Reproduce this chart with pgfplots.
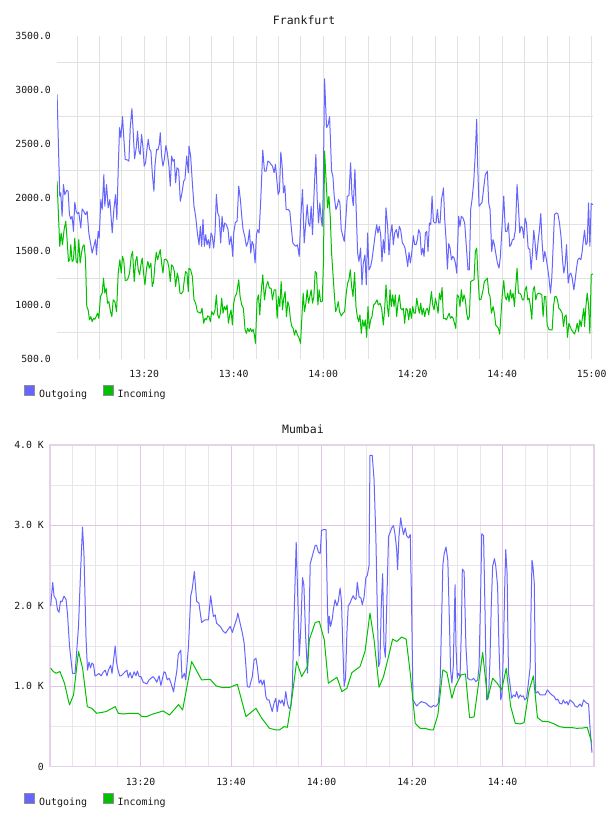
\documentclass[border=0pt]{standalone}
\usepackage{fontspec}
\setmainfont{DejaVu Sans Mono}
\usepackage{pgfplots}
\pgfplotsset{compat=1.18}
\definecolor{outblue}{RGB}{102,102,255}
\definecolor{ingreen}{RGB}{0,192,0}
\definecolor{fgrid}{RGB}{226,226,226}
\definecolor{mminor}{RGB}{234,228,236}
\definecolor{mmajor}{RGB}{224,198,226}
\definecolor{mframe}{RGB}{228,210,232}
\definecolor{txt}{RGB}{25,25,25}
\definecolor{legborder}{RGB}{140,140,150}

\pgfplotsset{
  chartbase/.style={
    scale only axis,
    anchor=south west,
    enlargelimits=false,
    major tick length=0pt, minor tick length=0pt,
    tick style={draw=none},
    tick label style={font=\fontsize{9.8}{10}\selectfont, text=txt},
    yticklabel style={anchor=east, inner sep=0pt, xshift=-6pt},
    xticklabel style={anchor=base, inner sep=0pt, yshift=-18.5pt},
    title style={font=\fontsize{11.5}{12}\selectfont, anchor=base, inner sep=0pt, text=txt},
    legend columns=2,
    legend style={draw=none, fill=none, font=\fontsize{10}{12}\selectfont, text=txt,
      inner sep=0pt, outer sep=0pt, nodes={inner sep=0pt},
      /tikz/every odd column/.append style={column sep=4pt},
      /tikz/every even column/.append style={column sep=15.5pt}},
    legend cell align=left,
    every axis plot/.append style={line width=1pt, line join=round, mark=none},
  }
}

\begin{document}
\begin{tikzpicture}
\useasboundingbox (0pt,0pt) rectangle (608pt,816pt);

% ---------------- Frankfurt ----------------
\begin{axis}[chartbase,
  at={(57pt,456.7pt)}, width=536pt, height=323.6pt,
  xmin=0.5, xmax=120.3, ymin=500, ymax=3500,
  axis line style={draw=none},
  xtick={20,40,60,80,100,120},
  xticklabels={13:20,13:40,14:00,14:20,14:40,15:00},
  minor xtick={5,10,...,120},
  ytick={500,1000,...,3500},
  yticklabels={500.0,1000.0,1500.0,2000.0,2500.0,3000.0,3500.0},
  minor ytick={750,1250,...,3250},
  xmajorgrids=true, xminorgrids=true, yminorgrids=true, ymajorgrids=false,
  major grid style={fgrid, line width=0.8pt},
  minor grid style={fgrid, line width=0.8pt},
  title={Frankfurt},
  title style={at={(axis description cs:0.461,1)}, yshift=4.7pt},
  legend style={at={(axis description cs:0,0)}, anchor=north west, xshift=-32.7pt, yshift=-26pt},
]
\addplot[outblue, legend image code/.code={\draw[draw=legborder, fill=outblue, line width=0.8pt] (0pt,-1.4pt) rectangle (10pt,8.6pt);}] coordinates {
(0.52,2957)(1.12,2012)(1.34,2043)(1.64,1826)(1.94,2120)(2.24,2027)(2.69,2067)(2.99,2058)(3.28,1841)(3.58,1800)
(3.88,1826)(4.18,1686)(4.48,1956)(4.78,1872)(5.07,1850)(5.37,1863)(5.82,1717)(6.12,1894)(6.49,1872)(6.87,1841)
(7.24,1872)(7.61,1671)(8.06,1562)(8.36,1485)(8.73,1547)(9.10,1609)(9.33,1469)(9.70,1686)(9.93,1624)(10.30,1981)
(10.60,1888)(10.97,2213)(11.19,1919)(11.57,2120)(11.94,1903)(12.31,1981)(12.84,1671)(13.21,1888)(13.58,2027)(13.88,1795)
(14.18,2260)(14.48,2647)(14.78,2554)(15.15,2750)(15.45,2539)(15.75,2353)(16.27,2347)(16.57,2337)(16.87,2647)(17.24,2824)
(17.54,2600)(17.84,2359)(18.21,2461)(18.51,2616)(18.81,2430)(19.10,2399)(19.40,2585)(19.70,2471)(20.00,2291)(20.30,2322)
(20.60,2446)(20.90,2539)(21.19,2446)(21.49,2430)(21.79,2229)(22.16,2058)(22.39,2291)(22.76,2446)(23.06,2440)(23.36,2492)
(23.58,2600)(23.88,2384)(24.18,2291)(24.48,2353)(24.85,2483)(25.15,2415)(25.52,2291)(25.82,2105)(26.12,2384)(26.42,2337)
(26.72,2353)(27.01,2136)(27.31,2275)(27.69,2260)(28.06,1965)(28.43,2043)(28.81,2151)(29.10,2167)(29.48,2384)(29.85,2229)
(30.00,2477)(30.37,2384)(30.75,2136)(31.12,1919)(31.49,1826)(31.87,1671)(32.24,1562)(32.54,1733)(32.84,1547)(33.13,1795)
(33.43,1547)(33.73,1655)(34.03,1562)(34.33,1609)(34.63,1531)(34.93,1671)(35.22,1640)(35.52,1531)(35.82,1671)(36.12,2027)
(36.42,1857)(36.72,1826)(37.09,1578)(37.39,1826)(37.69,1686)(37.99,1764)(38.36,1748)(38.73,1702)(39.03,1562)(39.40,1640)
(39.78,1454)(40.00,1671)(40.37,1770)(40.75,1779)(41.12,2105)(41.49,1981)(41.79,1826)(42.09,1702)(42.46,1640)(42.84,1547)
(43.21,1593)(43.51,1702)(43.81,1485)(44.10,1593)(44.40,1562)(44.78,1392)(45.07,1655)(45.37,1702)(45.67,1671)(46.04,1981)
(46.49,2440)(46.87,2244)(47.24,2244)(47.61,2337)(47.99,2328)(48.36,2306)(48.66,2291)(49.03,2229)(49.33,2306)(49.63,2167)
(49.93,2027)(50.22,2058)(50.52,2421)(50.82,2291)(51.12,2043)(51.42,2111)(51.72,1888)(52.16,1888)(52.54,1872)(52.84,1733)
(53.21,1578)(53.51,1562)(53.88,1547)(54.25,1562)(54.63,1454)(55.00,1826)(55.37,2074)(55.75,1578)(56.04,1733)(56.42,1934)
(56.72,1764)(57.01,1733)(57.31,1919)(57.61,1655)(57.99,2074)(58.36,2399)(58.66,1981)(58.96,1764)(59.25,1950)(59.55,1795)
(59.78,1733)(60.00,2043)(60.30,3100)(60.75,2647)(61.12,2678)(61.42,2750)(61.64,2508)(61.87,2244)(62.16,2198)(62.46,2012)
(62.84,1888)(63.13,1919)(63.43,1981)(63.73,1950)(64.03,1702)(64.40,1640)(64.70,1593)(65.00,1764)(65.37,2012)(65.75,2018)
(66.12,2322)(66.42,2027)(66.72,1925)(67.09,2260)(67.39,1857)(67.69,1485)(67.99,1407)(68.36,1531)(68.66,1190)(68.96,1392)
(69.33,1469)(69.63,1190)(69.93,1671)(70.22,1330)(70.60,1361)(70.90,1423)(71.19,1516)(71.57,1640)(71.94,1748)(72.24,1671)
(72.54,1733)(72.84,1655)(73.13,1407)(73.43,1609)(73.73,1485)(74.03,1903)(74.40,1733)(74.70,1469)(75.00,1655)(75.37,1748)
(75.67,1562)(75.97,1671)(76.34,1702)(76.72,1624)(77.01,1733)(77.31,1702)(77.69,1578)(77.99,1562)(78.28,1531)(78.58,1454)
(78.88,1361)(79.18,1491)(79.48,1392)(79.78,1485)(80.15,1646)(80.45,1562)(80.75,1562)(81.04,1609)(81.34,1702)(81.64,1671)
(81.94,1469)(82.24,1531)(82.54,1454)(82.84,1671)(83.13,1686)(83.43,1500)(83.73,1764)(84.03,1748)(84.33,2012)(84.63,1779)
(84.93,1764)(85.22,1764)(85.52,1888)(85.82,1764)(86.12,1764)(86.42,1981)(86.72,2043)(86.87,2089)(87.16,1795)(87.46,1609)
(87.76,1336)(88.06,1572)(88.36,1531)(88.66,1423)(88.96,1454)(89.25,1438)(89.55,1392)(89.85,1299)(90.27,1826)(90.57,1733)
(90.87,1826)(91.24,1810)(91.62,1764)(91.99,1547)(92.36,1330)(92.66,1330)(92.96,1888)(93.26,1981)(93.63,2136)(94.00,2415)
(94.30,2725)(94.53,2291)(94.83,1919)(95.12,1934)(95.50,1956)(95.87,2089)(96.24,2213)(96.69,2244)(96.99,1950)(97.29,1888)
(97.66,1500)(97.96,1609)(98.26,1562)(98.56,1485)(98.93,1392)(99.30,1345)(99.60,1454)(99.97,1733)(100.35,2012)(100.72,1686)
(101.09,1686)(101.39,1764)(101.69,1547)(101.99,1562)(102.29,1609)(102.59,1609)(102.96,1702)(103.33,2120)(103.63,1919)(103.93,1671)
(104.23,1733)(104.53,1717)(104.83,1624)(105.12,1810)(105.42,1764)(105.80,1531)(106.17,1516)(106.47,1330)(106.77,1485)(107.06,1696)
(107.36,1578)(107.66,1423)(108.03,1593)(108.33,1702)(108.63,1850)(108.93,1578)(109.23,1407)(109.53,1500)(109.83,1438)(110.12,1361)
(110.42,1268)(110.80,1113)(111.09,1252)(111.39,1547)(111.69,1841)(112.06,1857)(112.44,1850)(112.81,1764)(113.18,1624)(113.48,1423)
(113.78,1299)(114.08,1376)(114.38,1562)(114.75,1206)(115.05,1283)(115.35,1299)(115.65,1252)(116.02,1144)(116.32,1237)(116.62,1345)
(116.91,1423)(117.21,1438)(117.59,1423)(117.88,1500)(118.11,1593)(118.41,1696)(118.71,1562)(119.00,1578)(119.30,1950)(119.60,1547)
(119.90,1944)(120.27,1934)
};
\addlegendentry{Outgoing}
\addplot[ingreen, legend image code/.code={\draw[draw=legborder, fill=ingreen, line width=0.8pt] (0pt,-1.4pt) rectangle (10pt,8.6pt);}] coordinates {
(0.52,2151)(0.90,1764)(1.12,1547)(1.42,1671)(1.72,1562)(2.09,1702)(2.46,1779)(2.76,1609)(3.06,1407)(3.36,1423)
(3.58,1562)(3.88,1407)(4.18,1423)(4.48,1624)(4.78,1407)(5.07,1392)(5.37,1609)(5.67,1392)(5.97,1485)(6.27,1547)
(6.57,1562)(6.87,1423)(7.16,989)(7.46,958)(7.76,865)(8.06,896)(8.36,849)(8.66,880)(8.96,871)(9.25,896)
(9.55,927)(9.85,880)(10.22,1082)(10.60,1113)(10.90,1252)(11.19,1113)(11.49,1159)(11.79,1020)(12.09,1035)(12.46,942)
(12.76,896)(13.06,1051)(13.43,1035)(13.81,942)(14.18,1299)(14.55,1423)(14.85,1299)(15.15,1454)(15.45,1407)(15.75,1230)
(16.27,1237)(16.72,1299)(17.09,1454)(17.39,1500)(17.76,1221)(18.06,1407)(18.36,1454)(18.66,1330)(18.96,1283)(19.25,1376)
(19.55,1438)(19.85,1299)(20.15,1190)(20.52,1345)(20.82,1407)(21.12,1345)(21.49,1392)(21.79,1175)(22.09,1221)(22.39,1376)
(22.69,1491)(22.99,1423)(23.28,1469)(23.58,1516)(23.88,1392)(24.18,1299)(24.48,1423)(24.85,1429)(25.22,1407)(25.52,1345)
(25.82,1221)(26.12,1376)(26.42,1361)(26.72,1314)(27.01,1175)(27.39,1299)(27.69,1237)(27.99,1113)(28.28,1107)(28.66,1128)
(28.96,1237)(29.25,1314)(29.55,1299)(29.85,1128)(30.00,1345)(30.37,1330)(30.75,1268)(31.12,1051)(31.49,1020)(31.87,942)
(32.24,933)(32.61,927)(32.91,973)(33.28,834)(33.58,880)(33.88,865)(34.18,902)(34.48,896)(34.78,849)(35.07,942)
(35.45,911)(35.82,958)(36.12,1097)(36.42,911)(36.72,880)(37.01,927)(37.31,1066)(37.61,927)(37.91,989)(38.21,958)
(38.51,1004)(38.81,834)(39.10,911)(39.40,958)(39.70,818)(40.00,1020)(40.30,1082)(40.67,1113)(41.12,1237)(41.42,1082)
(41.79,1004)(42.16,973)(42.54,772)(42.84,741)(43.13,787)(43.43,756)(43.73,787)(44.03,756)(44.33,778)(44.63,725)
(44.85,648)(45.22,1051)(45.52,1097)(45.82,911)(46.12,1113)(46.49,1283)(46.87,1051)(47.24,1175)(47.61,1221)(47.99,1159)
(48.36,1159)(48.66,1051)(49.03,1144)(49.40,1144)(49.70,880)(50.00,1082)(50.30,989)(50.60,1221)(50.90,958)(51.19,1066)
(51.49,1128)(51.79,896)(52.09,1035)(52.39,989)(52.69,865)(52.99,803)(53.28,787)(53.58,725)(53.88,772)(54.25,725)
(54.63,694)(54.93,648)(55.22,880)(55.52,1113)(55.82,942)(56.12,1020)(56.42,1144)(56.72,1020)(57.01,1082)(57.31,1144)
(57.61,1020)(57.91,1082)(58.21,1314)(58.51,1299)(58.81,1004)(59.10,1144)(59.40,1035)(59.78,1035)(60.07,1423)(60.30,2430)
(60.68,2136)(60.97,1903)(61.27,2012)(61.57,1826)(61.87,1485)(62.17,1299)(62.47,1113)(62.77,942)(63.06,973)(63.36,1035)
(63.66,942)(64.03,902)(64.41,927)(64.78,942)(65.15,1113)(65.45,1206)(65.75,1237)(66.05,1330)(66.35,1175)(66.65,1082)
(67.02,1305)(67.32,989)(67.62,896)(67.92,849)(68.21,911)(68.51,741)(68.81,865)(69.11,803)(69.41,865)(69.71,703)
(70.01,989)(70.30,787)(70.60,865)(70.90,896)(71.27,1004)(71.65,1020)(72.02,1051)(72.32,1004)(72.69,1020)(73.06,973)
(73.44,818)(73.74,973)(74.04,1190)(74.33,989)(74.63,896)(74.93,1144)(75.23,989)(75.53,1097)(75.83,989)(76.12,1097)
(76.42,896)(76.72,1020)(77.02,1097)(77.32,973)(77.62,958)(77.91,973)(78.21,834)(78.51,973)(78.81,958)(79.11,865)
(79.41,973)(79.71,880)(80.01,989)(80.30,927)(80.60,927)(80.90,1066)(81.20,989)(81.50,927)(81.80,1020)(82.10,911)
(82.40,973)(82.69,896)(82.99,958)(83.29,973)(83.59,911)(83.89,1020)(84.19,1128)(84.48,1004)(84.78,958)(85.08,1066)
(85.38,1004)(85.68,927)(85.97,1113)(86.27,1051)(86.57,1165)(86.87,880)(87.24,880)(87.54,865)(87.84,896)(88.14,927)
(88.44,880)(88.74,896)(89.04,880)(89.33,834)(89.63,787)(89.93,1097)(90.27,1082)(90.57,989)(90.87,1144)(91.17,1035)
(91.47,1097)(91.77,1051)(92.06,927)(92.36,865)(92.66,896)(92.96,1221)(93.33,1230)(93.71,1237)(94.00,1500)(94.30,1531)
(94.60,1268)(94.90,1051)(95.27,1057)(95.65,1128)(96.02,1221)(96.39,1237)(96.69,1252)(96.99,1113)(97.29,1082)(97.59,927)
(97.96,989)(98.26,927)(98.56,818)(98.86,803)(99.15,787)(99.45,734)(99.75,927)(100.05,1113)(100.35,1230)(100.65,1082)
(100.94,1051)(101.24,1113)(101.54,1035)(101.84,1144)(102.14,1066)(102.44,1113)(102.74,989)(103.03,1175)(103.33,1345)(103.63,1113)
(103.93,1113)(104.23,1097)(104.53,1051)(104.83,1051)(105.12,1144)(105.42,1175)(105.72,1051)(106.02,1066)(106.32,989)(106.62,871)
(106.91,1144)(107.21,1175)(107.51,1051)(107.81,1103)(108.18,1113)(108.56,1107)(108.86,1097)(109.15,896)(109.45,1082)(109.75,1082)
(110.05,818)(110.42,778)(110.80,772)(111.17,772)(111.47,989)(111.77,1082)(112.06,1082)(112.36,1051)(112.66,973)(113.03,958)
(113.41,927)(113.71,803)(114.00,896)(114.30,911)(114.60,703)(114.90,834)(115.20,803)(115.50,772)(115.80,756)(116.17,734)
(116.47,772)(116.77,834)(117.06,756)(117.36,865)(117.66,803)(117.96,896)(118.26,973)(118.41,803)(118.71,989)(119.00,1113)
(119.30,1004)(119.60,741)(119.90,1283)(120.27,1292)
};
\addlegendentry{Incoming}
\end{axis}

% ---------------- Mumbai ----------------
\begin{axis}[chartbase,
  at={(50pt,49.3pt)}, width=544pt, height=321.7pt,
  xmin=0, xmax=120.2, ymin=0, ymax=4000,
  axis line style={draw=mframe, line width=1.3pt},
  xtick={20,40,60,80,100},
  xticklabels={13:20,13:40,14:00,14:20,14:40},
  minor xtick={5,10,...,120},
  ytick={0,1000,...,4000},
  yticklabels={0,1.0 K,2.0 K,3.0 K,4.0 K},
  minor ytick={500,1500,2500,3500},
  xmajorgrids=true, xminorgrids=true, ymajorgrids=true, yminorgrids=true,
  major grid style={mmajor, line width=0.9pt},
  minor grid style={mminor, line width=0.9pt},
  title={Mumbai},
  title style={at={(axis description cs:0.465,1)}, yshift=5.7pt},
  legend style={at={(axis description cs:0,0)}, anchor=north west, xshift=-25.7pt, yshift=-26.5pt},
]
\addplot[outblue, legend image code/.code={\draw[draw=legborder, fill=outblue, line width=0.8pt] (0pt,-1.4pt) rectangle (10pt,8.6pt);}] coordinates {
(0.15,2000)(0.6,2290)(0.9,2120)(1.33,2080)(1.66,1950)(1.99,1920)(2.32,2060)(2.65,2050)(3.09,2120)(3.54,2080)
(3.87,1900)(4.31,1500)(4.64,1330)(4.97,1160)(5.52,1160)(5.86,1400)(6.3,1750)(6.74,2400)(7.18,2980)(7.5,2650)
(7.96,1600)(8.29,1200)(8.62,1300)(8.95,1230)(9.28,1290)(9.61,1270)(9.94,1130)(10.4,1140)(10.8,1160)(11.3,1130)
(11.7,1170)(12.2,1200)(12.6,1130)(12.9,1200)(13.4,1260)(13.7,1160)(14.0,1300)(14.4,1500)(14.7,1300)(15.0,1210)
(15.4,1130)(15.7,1130)(16.1,1150)(16.6,1180)(17.0,1200)(17.3,1110)(17.7,1170)(18.1,1100)(18.6,1180)(19.0,1130)
(19.3,1190)(19.7,1120)(20.1,1120)(20.6,1050)(21.0,1040)(21.4,1030)(21.9,1080)(22.3,1100)(22.8,1120)(23.2,1090)
(23.6,1050)(24.1,1130)(24.5,1010)(24.9,1110)(25.2,1180)(25.5,1170)(25.9,1080)(26.3,1100)(26.6,1060)(27.0,990)
(27.3,930)(27.6,1050)(28.0,1180)(28.36,1400)(28.9,1450)(29.17,1100)(29.7,1160)(30.0,1080)(30.6,1500)(31.1,2125)
(31.4,2200)(31.9,2428)(32.4,2055)(32.9,2035)(33.5,1794)(34.25,1826)(35.0,1826)(35.5,2125)(36.1,1868)(36.5,1888)
(36.8,1785)(37.6,1744)(38.3,1682)(38.8,1661)(39.3,1703)(39.8,1744)(40.3,1670)(40.7,1744)(41.3,1847)(41.5,1910)
(42.0,1785)(42.5,1661)(42.9,1536)(43.3,1245)(43.6,996)(44.1,988)(44.3,1038)(44.7,1121)(45.1,1329)(45.5,1349)
(45.8,1245)(46.2,1038)(46.6,1079)(46.9,1017)(47.3,1079)(47.7,872)(48.0,830)(48.4,830)(48.8,747)(49.1,685)
(49.5,789)(49.9,851)(50.2,685)(50.6,830)(50.98,789)(51.3,830)(51.7,755)(52.1,934)(52.45,789)(52.8,726)
(53.2,739)(53.55,996)(53.9,1800)(54.4,2790)(54.8,2000)(55.1,1378)(55.4,1700)(55.8,2350)(56.1,2258)(56.5,1600)
(56.9,1162)(57.2,1700)(57.5,2524)(58.0,2628)(58.6,2752)(58.9,2752)(59.3,2670)(59.7,2649)(60.0,2939)(60.4,2947)
(61.0,2947)(61.3,2000)(61.5,1661)(61.7,1868)(62.0,1744)(62.4,1847)(62.6,1950)(63.0,2076)(63.4,2000)(63.7,2056)
(64.1,2222)(64.4,2060)(64.7,1500)(65.0,1000)(65.3,1100)(65.6,1661)(65.9,2000)(66.3,2035)(66.6,2080)(67.0,2127)
(67.3,2090)(67.6,2080)(67.9,2292)(68.3,2110)(68.7,2098)(69.0,2014)(69.4,2110)(69.8,2355)(70.1,2376)(70.5,2500)
(70.7,3870)(71.2,3870)(71.6,3571)(72.0,2864)(72.3,2000)(72.6,1245)(72.9,1300)(73.2,2000)(73.5,2400)(73.8,1500)
(74.1,1360)(74.4,2000)(74.8,2864)(75.1,2905)(75.5,2968)(75.9,2997)(76.2,2905)(76.6,2698)(76.8,2449)(77.1,2864)
(77.5,3093)(77.7,3010)(78.1,2885)(78.5,2968)(78.8,2873)(79.2,2844)(79.6,2885)(79.9,2000)(80.2,830)(81.0,755)
(81.6,790)(82.1,809)(82.5,800)(83.1,790)(83.6,760)(84.2,739)(84.7,760)(85.3,750)(85.8,789)(86.2,1038)
(86.6,2000)(86.8,2503)(87.1,2649)(87.5,2732)(87.9,2566)(88.3,1700)(88.5,1200)(88.8,1038)(89.1,1245)(89.5,2263)
(89.7,1500)(90.0,1100)(90.2,1162)(90.6,1121)(90.9,1700)(91.1,2457)(91.5,2428)(91.9,1500)(92.3,1100)(92.8,1079)
(93.2,1079)(93.6,1100)(94.1,1058)(94.5,1079)(94.8,1245)(95.1,2000)(95.4,2897)(95.8,2873)(96.1,2000)(96.3,1329)
(96.5,830)(96.9,870)(97.2,1300)(97.5,2000)(97.8,2491)(98.2,2587)(98.5,2491)(98.9,2242)(99.2,1500)(99.6,830)
(99.9,913)(100.2,1500)(100.5,2300)(100.7,2698)(101.0,2400)(101.3,1162)(101.7,1000)(102.0,851)(102.4,892)(102.8,872)
(103.1,934)(103.5,851)(103.9,892)(104.2,872)(104.6,880)(104.9,830)(105.3,851)(105.7,1038)(106.1,1245)(106.3,2000)
(106.5,2566)(106.7,2500)(107.0,2284)(107.3,913)(107.8,934)(108.3,892)(108.8,892)(109.4,892)(109.9,955)(110.4,920)
(110.9,892)(111.4,872)(111.8,830)(112.2,840)(112.6,789)(113.1,780)(113.4,830)(113.8,789)(114.2,810)(114.5,768)
(114.9,830)(115.3,810)(115.7,789)(116.0,755)(116.5,740)(117.1,780)(117.5,747)(117.9,830)(118.2,810)(118.6,789)
(119.0,780)(119.3,498)(119.75,174)
};
\addlegendentry{Outgoing}
\addplot[ingreen, legend image code/.code={\draw[draw=legborder, fill=ingreen, line width=0.8pt] (0pt,-1.4pt) rectangle (10pt,8.6pt);}] coordinates {
(0.15,1224)(0.74,1183)(1.33,1162)(2.2,1183)(3.2,1038)(4.3,768)(5.2,892)(6.3,1432)(7.2,1224)(8.25,747)
(9.2,726)(10.3,664)(12.4,685)(14.4,747)(15.1,664)(16.2,655)(17.5,664)(19.5,664)(20.3,623)(21.4,623)
(22.5,651)(25.0,693)(26.4,643)(28.4,772)(29.3,706)(31.3,1307)(33.5,1079)(35.4,1087)(36.7,1004)(38.2,983)
(39.8,988)(41.4,1025)(43.3,623)(45.5,726)(46.8,602)(48.5,477)(49.9,457)(50.7,457)(51.7,498)(52.45,490)
(53.4,830)(54.5,1307)(55.6,1121)(56.9,1245)(57.3,1578)(58.6,1793)(59.5,1806)(60.6,1578)(61.5,1038)(63.4,1112)
(64.5,934)(65.6,975)(66.7,1170)(68.5,1245)(69.6,1432)(70.7,1910)(71.6,1578)(72.7,988)(73.7,1121)(74.8,1370)
(75.7,1586)(76.6,1557)(77.7,1611)(78.7,1586)(79.6,1162)(80.7,540)(81.8,477)(82.9,477)(84.0,457)(84.7,457)
(85.7,643)(86.8,1204)(87.7,1170)(88.8,851)(89.5,988)(90.8,1141)(91.8,1153)(92.7,610)(93.7,619)(94.7,1038)
(95.6,1420)(96.7,839)(97.8,1100)(98.8,1038)(99.8,955)(100.8,1224)(101.8,747)(102.8,540)(103.9,532)(104.75,548)
(105.8,934)(106.8,1129)(107.7,610)(108.8,564)(110.1,560)(111.4,532)(112.6,498)(113.8,486)(115.3,486)(116.4,477)
(117.7,481)(118.7,490)(119.7,299)
};
\addlegendentry{Incoming}
\end{axis}
\end{tikzpicture}
\end{document}
